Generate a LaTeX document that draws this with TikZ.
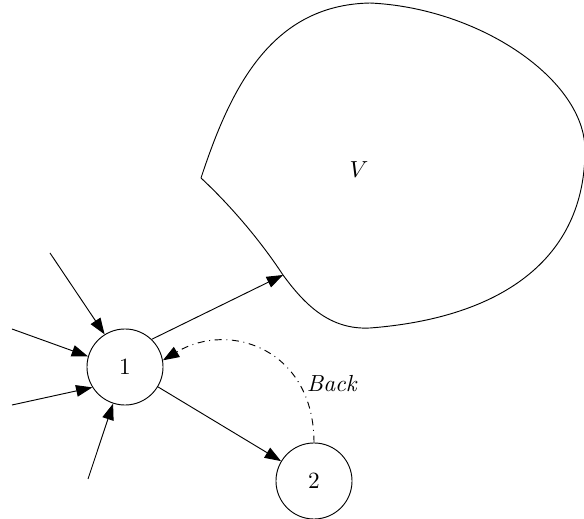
\documentclass[tikz,border=0pt]{standalone}
\usetikzlibrary{positioning,arrows.meta}

\begin{document}
\begin{tikzpicture}[
	x=0.43pt, y=-0.43pt,
	state/.style={circle, draw=black, minimum size=32.7pt, inner sep=0pt, font=\normalsize},
	arr/.style={-{Triangle[length=7pt,width=5pt]}},
	backarr/.style={-{Triangle[length=7pt,width=5pt]}, dash dot}
	]
	\useasboundingbox (0,0) rectangle (584,519);
	% nodes
	\node[state] (n1) at (125,367) {1};
	\node[state] (n2) at (314,481) {2};
	% region V
	\coordinate (vin) at (283,275);
	\draw (201,178) .. controls (230,90) and (270,5) .. (370,3)
		.. controls (480,8) and (585,80) .. (585,150)
		.. controls (585,260) and (500,318) .. (370,328)
		.. controls (330,330) and (305,305) .. (vin)
		.. controls (260,240) and (230,205) .. (201,178);
	\node (v) at (359,170) {$V$};
	% incoming edges
	\coordinate (in1) at (50,253);
	\coordinate (in2) at (12,329);
	\coordinate (in3) at (12,405);
	\coordinate (in4) at (88,479);
	\draw[arr] (in1) -- (n1.122);
	\draw[arr] (in2) -- (n1.164);
	\draw[arr] (in3) -- (n1.212);
	\draw[arr] (in4) -- (n1.252);
	% outgoing edges
	\draw[arr] (n1.46) -- (vin);
	\draw[arr] (n1) -- (n2);
	\draw[backarr] (n2.north) .. controls (314,350) and (230,320) .. (n1.10)
		node[pos=0.26, right=0pt] {\textit{Back}};
\end{tikzpicture}
\end{document}
